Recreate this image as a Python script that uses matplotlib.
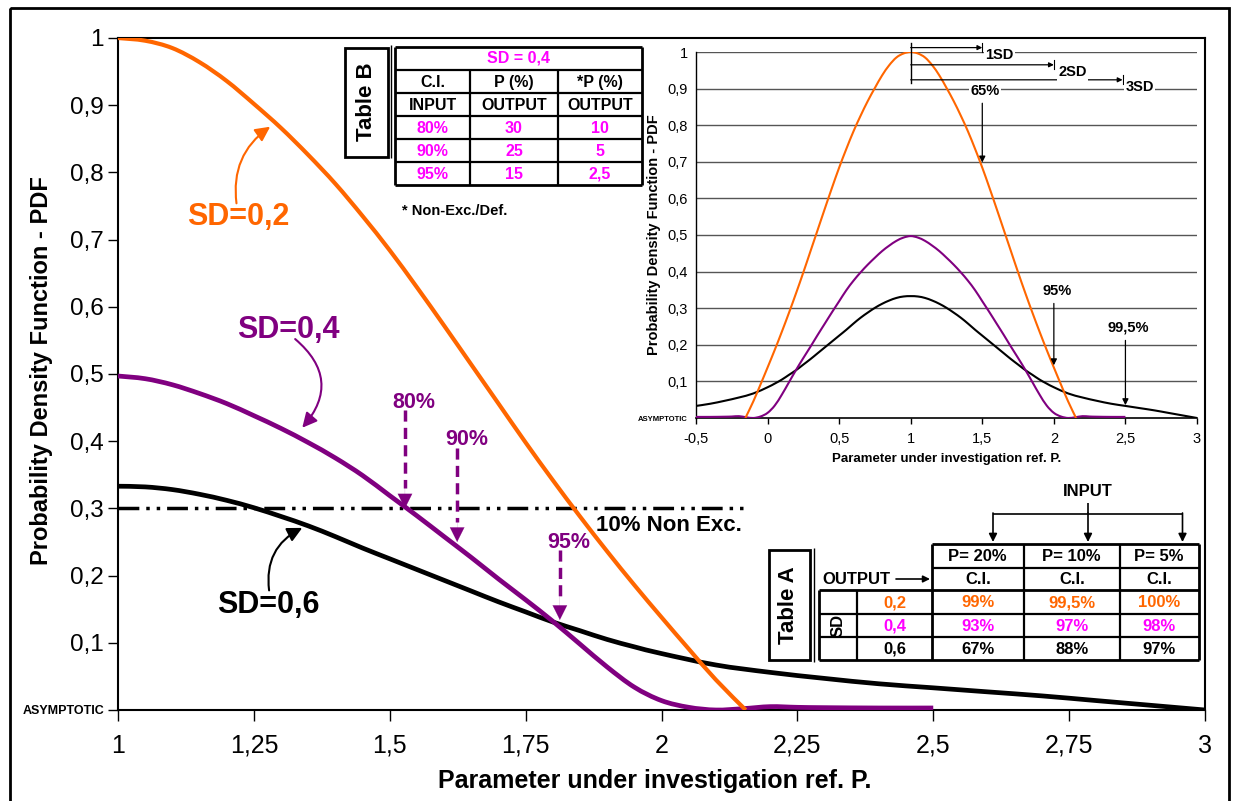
import matplotlib

matplotlib.use("Agg")
import matplotlib.pyplot as plt
from matplotlib import font_manager
from matplotlib.lines import Line2D
from matplotlib.patches import FancyArrowPatch, PathPatch, Rectangle
from matplotlib.path import Path
from matplotlib.transforms import Affine2D

# ------------------------------------------------------------------ data

# right half of each PDF (x >= 1)
SD02_X = [1.00, 1.05, 1.10, 1.15, 1.20, 1.25, 1.30, 1.35, 1.40, 1.45, 1.50, 1.55,
          1.60, 1.65, 1.70, 1.75, 1.80, 1.85, 1.90, 1.95, 2.00, 2.05, 2.10, 2.155]
SD02_Y = [1.000, 0.996, 0.985, 0.964, 0.936, 0.902, 0.866, 0.826, 0.783, 0.735, 0.684, 0.629,
          0.572, 0.514, 0.456, 0.398, 0.342, 0.288, 0.236, 0.186, 0.138, 0.091, 0.045, 0.000]

SD04_X = [1.00, 1.05, 1.10, 1.15, 1.20, 1.25, 1.30, 1.35, 1.40, 1.45, 1.50, 1.55, 1.60, 1.65,
          1.70, 1.75, 1.80, 1.85, 1.90, 1.95, 2.00, 2.05, 2.10, 2.15, 2.20, 2.25, 2.30, 2.40, 2.50]
SD04_Y = [0.497, 0.493, 0.484, 0.471, 0.456, 0.438, 0.419, 0.398, 0.375, 0.349, 0.319, 0.289, 0.258, 0.227,
          0.195, 0.164, 0.132, 0.098, 0.064, 0.034, 0.014, 0.004, 0.000, 0.002, 0.005, 0.004, 0.0035, 0.003, 0.003]

SD06_X = [1.00, 1.05, 1.10, 1.15, 1.20, 1.25, 1.30, 1.35, 1.40, 1.45, 1.50, 1.55, 1.60, 1.65, 1.70,
          1.75, 1.80, 1.85, 1.90, 1.95, 2.00, 2.10, 2.20, 2.30, 2.40, 2.50, 2.60, 2.70, 2.80, 2.90, 3.00]
SD06_Y = [0.333, 0.332, 0.328, 0.321, 0.312, 0.301, 0.288, 0.274, 0.258, 0.241, 0.225, 0.209, 0.193, 0.177, 0.161,
          0.146, 0.131, 0.118, 0.105, 0.094, 0.084, 0.067, 0.056, 0.047, 0.039, 0.033, 0.027, 0.021, 0.014, 0.007, 0.000]

NON_EXC_LEVEL = 0.3
NON_EXC_END = 2.16

MAIN_XTICKS = [1, 1.25, 1.5, 1.75, 2, 2.25, 2.5, 2.75, 3]
MAIN_XLABELS = ["1", "1,25", "1,5", "1,75", "2", "2,25", "2,5", "2,75", "3"]
YTICKS = [0, 0.1, 0.2, 0.3, 0.4, 0.5, 0.6, 0.7, 0.8, 0.9, 1]
YLABELS = ["ASYMPTOTIC", "0,1", "0,2", "0,3", "0,4", "0,5", "0,6", "0,7", "0,8", "0,9", "1"]
INSET_XTICKS = [-0.5, 0, 0.5, 1, 1.5, 2, 2.5, 3]
INSET_XLABELS = ["-0,5", "0", "0,5", "1", "1,5", "2", "2,5", "3"]

# confidence markers on the SD=0,4 curve: (label, x, tip y, dashed line top)
CI_MARKS = [("80%", 1.528, 0.300, 0.446), ("90%", 1.624, 0.250, 0.390), ("95%", 1.813, 0.134, 0.238)]

# inset marks: (label, x, tip y, arrow top)
INSET_MARKS = [("65%", 1.5, 0.698, 0.86), ("95%", 2.0, 0.144, 0.313), ("99,5%", 2.5, 0.035, 0.212)]
SD_SPANS = [("1SD", 1.5), ("2SD", 2.0), ("3SD", 2.48)]

TABLE_B_TITLE = "SD = 0,4"
TABLE_B_HEAD = [["C.I.", "P (%)", "*P (%)"], ["INPUT", "OUTPUT", "OUTPUT"]]
TABLE_B_ROWS = [["80%", "30", "10"], ["90%", "25", "5"], ["95%", "15", "2,5"]]

TABLE_A_HEAD = [["P= 20%", "P= 10%", "P= 5%"], ["C.I.", "C.I.", "C.I."]]
TABLE_A_SD = ["0,2", "0,4", "0,6"]
TABLE_A_ROWS = [["99%", "99,5%", "100%"], ["93%", "97%", "98%"], ["67%", "88%", "97%"]]

ORANGE = "#FF6600"
PURPLE = "#800080"
MAGENTA = "#FF00FF"
ROW_COLORS = [ORANGE, MAGENTA, "black"]


# ------------------------------------------------------------------ fonts

def has_font(name):
    try:
        font_manager.findfont(font_manager.FontProperties(family=name), fallback_to_default=False)
        return True
    except ValueError:
        return False


SANS = "Liberation Sans"
NARROW = "Liberation Sans Narrow" if has_font("Liberation Sans Narrow") else SANS
plt.rcParams["font.family"] = [SANS, "DejaVu Sans"]

# ------------------------------------------------------------------ helpers

W, H = 1235, 801
fig = plt.figure(figsize=(W / 100, H / 100), dpi=100)
PX = Affine2D().scale(1 / W, -1 / H).translate(0, 1) + fig.transFigure


def rect(l, t, r, b):
    return [l / W, 1 - b / H, (r - l) / W, (b - t) / H]


def line(xs, ys, lw=1.5, color="black"):
    fig.add_artist(Line2D(xs, ys, transform=PX, color=color, lw=lw, solid_capstyle="butt"))


def ftext(x, y, s, size=11.5, color="black", **kw):
    fig.text(x, y, s, transform=PX, fontsize=size, color=color, fontweight="bold",
             ha=kw.pop("ha", "center"), va=kw.pop("va", "center"), **kw)


def farrow(a, b, scale=12, lw=1.2):
    fig.add_artist(FancyArrowPatch(a, b, transform=PX, arrowstyle="-|>", mutation_scale=scale,
                                   lw=lw, color="black", shrinkA=0, shrinkB=0))


def smooth_line(axis, xs, ys, color, lw, z):
    # Excel-style smoothed line: Catmull-Rom segments through the read points
    pts = list(zip(xs, ys))
    n = len(pts)
    verts, codes = [pts[0]], [Path.MOVETO]
    for i in range(n - 1):
        p0, p1, p2, p3 = pts[max(i - 1, 0)], pts[i], pts[i + 1], pts[min(i + 2, n - 1)]
        c1 = (p1[0] + (p2[0] - p0[0]) / 6, p1[1] + (p2[1] - p0[1]) / 6)
        c2 = (p2[0] - (p3[0] - p1[0]) / 6, p2[1] - (p3[1] - p1[1]) / 6)
        verts += [c1, c2, p2]
        codes += [Path.CURVE4] * 3
    axis.add_patch(PathPatch(Path(verts, codes), fill=False, ec=color, lw=lw,
                             capstyle="butt", joinstyle="round", zorder=z))


# outer frame
fig.add_artist(Rectangle((10, 8), 1219, 820, transform=PX, fill=False, lw=2, ec="black"))

# ------------------------------------------------------------------ main chart

ax = fig.add_axes(rect(118, 38, 1205, 710))
ax.set_xlim(1, 3)
ax.set_ylim(0, 1)
for sp in ax.spines.values():
    sp.set_linewidth(1.5)

smooth_line(ax, SD06_X, SD06_Y, "black", 3.4, 3)
smooth_line(ax, SD04_X, SD04_Y, PURPLE, 3.4, 4)
smooth_line(ax, SD02_X, SD02_Y, ORANGE, 3.0, 5)
ax.plot([1, NON_EXC_END], [NON_EXC_LEVEL, NON_EXC_LEVEL], color="black", lw=2.5,
        dashes=(6, 2, 1, 2, 1, 2), zorder=2)
ax.text(1.879, 0.275, "10% Non Exc.", fontsize=16, fontweight="bold", ha="left", va="center")

ax.set_xticks(MAIN_XTICKS)
ax.set_xticklabels(MAIN_XLABELS, family=NARROW, fontsize=18)
ax.set_yticks(YTICKS)
ax.set_yticklabels(YLABELS, fontsize=17.5)
ax.get_yticklabels()[0].set_fontsize(9)
ax.get_yticklabels()[0].set_fontweight("bold")
ax.tick_params(axis="x", direction="out", length=8, width=1, pad=9)
ax.tick_params(axis="y", direction="out", length=7, width=1, pad=3)

ax.set_xlabel("Parameter under investigation ref. P.", fontsize=18, fontweight="bold")
ax.xaxis.set_label_coords(0.494, -0.088)
ax.set_ylabel("Probability Density Function - PDF", fontsize=17, fontweight="bold")
ax.yaxis.set_label_coords(-0.06, 0.505)

# curve labels with curved arrows
CURVE_LABELS = [("SD=0,2", ORANGE, (1.221, 0.734), (1.218, 0.754), (1.280, 0.868), -0.3),
                ("SD=0,4", PURPLE, (1.313, 0.566), (1.326, 0.552), (1.339, 0.420), -0.5),
                ("SD=0,6", "black", (1.276, 0.156), (1.278, 0.178), (1.339, 0.271), -0.35)]
for label, col, tpos, start, tip, rad in CURVE_LABELS:
    ax.text(*tpos, label, color=col, fontsize=22, fontweight="bold", ha="center", va="center")
    ax.add_patch(FancyArrowPatch(start, tip, arrowstyle="-|>", mutation_scale=22, lw=1.5,
                                 color=col, connectionstyle=f"arc3,rad={rad}",
                                 shrinkA=0, shrinkB=0, zorder=6))

for label, x, tip, top in CI_MARKS:
    ax.text(x + 0.017, top + 0.012, label, color=PURPLE, fontsize=15.5, fontweight="bold",
            ha="center", va="center")
    ax.plot([x, x], [top, tip + 0.03], color=PURPLE, lw=2.5, dashes=(3.2, 1.8), zorder=6)
    ax.annotate("", xy=(x, tip), xytext=(x, tip + 0.035),
                arrowprops=dict(arrowstyle="-|>", mutation_scale=26, lw=0.1, color=PURPLE,
                                shrinkA=0, shrinkB=0), zorder=7)

# ------------------------------------------------------------------ inset

ins = fig.add_axes(rect(696, 52, 1197, 418))
ins.set_xlim(-0.5, 3)
ins.set_ylim(0, 1)
ins.set_facecolor("white")
for k in ("top", "right"):
    ins.spines[k].set_visible(False)
ins.spines["left"].set_linewidth(1)
ins.spines["bottom"].set_linewidth(1.2)
for y in YTICKS[1:]:
    ins.axhline(y, color="#555555", lw=1, zorder=1)

# mirror the right halves around the mean (x = 1)
blk_x = [2 - x for x in SD06_X[::-1] if x <= 2.5] + SD06_X[1:]
blk_y = [y for x, y in zip(SD06_X[::-1], SD06_Y[::-1]) if x <= 2.5] + SD06_Y[1:]
pur_x = [2 - x for x in SD04_X[::-1]] + SD04_X[1:]
pur_y = SD04_Y[::-1] + SD04_Y[1:]
org_x = [2 - x for x in SD02_X[::-1]] + SD02_X[1:]
org_y = SD02_Y[::-1] + SD02_Y[1:]
smooth_line(ins, blk_x, blk_y, "black", 1.5, 3)
smooth_line(ins, pur_x, pur_y, PURPLE, 1.5, 4)
smooth_line(ins, org_x, org_y, ORANGE, 1.5, 5)

ins.set_xticks(INSET_XTICKS)
ins.set_xticklabels(INSET_XLABELS, fontsize=10.5)
ins.set_yticks(YTICKS)
ins.set_yticklabels(YLABELS, fontsize=10.5)
ins.get_yticklabels()[0].set_fontsize(5.5)
ins.get_yticklabels()[0].set_fontweight("bold")
ins.tick_params(axis="x", direction="out", length=4, width=1, pad=6)
ins.tick_params(axis="y", length=0, pad=6)
ins.set_xlabel("Parameter under investigation ref. P.", fontsize=9.5, fontweight="bold")
ins.xaxis.set_label_coords(0.5, -0.095)
ins.set_ylabel("Probability Density Function - PDF", fontsize=10.5, fontweight="bold")
ins.yaxis.set_label_coords(-0.07, 0.5)

# SD spans above the peak
ins.plot([1, 1], [1.025, 0.915], color="black", lw=1, clip_on=False, zorder=6)
for (label, xend), y, tx in zip(SD_SPANS, [1.012, 0.965, 0.924], [1.52, 2.03, 2.50]):
    ins.annotate("", xy=(xend, y), xytext=(1, y),
                 arrowprops=dict(arrowstyle="-|>", mutation_scale=7, lw=0.9, color="black",
                                 shrinkA=0, shrinkB=0), annotation_clip=False, zorder=6)
    ins.plot([xend, xend], [y - 0.012, y + 0.012], color="black", lw=0.8, clip_on=False)
    ins.text(tx, y - 0.02, label, fontsize=10.5, fontweight="bold", ha="left", va="center",
             bbox=dict(fc="white", ec="none", pad=1), zorder=7)

for label, x, tip, top in INSET_MARKS:
    ins.text(x + 0.02, top + 0.015, label, fontsize=10.5, fontweight="bold", ha="center",
             va="bottom", bbox=dict(fc="white", ec="none", pad=1), zorder=7)
    ins.annotate("", xy=(x, tip), xytext=(x, top),
                 arrowprops=dict(arrowstyle="-|>", mutation_scale=9, lw=0.9, color="black",
                                 shrinkA=0, shrinkB=0), zorder=7)

# ------------------------------------------------------------------ Table B

bx = [395, 470, 558, 642]
by = [47, 69.5, 93, 116, 139, 161.5, 185]
for y in by:
    line([bx[0], bx[-1]], [y, y], lw=2 if y in (by[0], by[-1]) else 1.6)
for x in bx:
    line([x, x], [by[0] if x in (bx[0], bx[-1]) else by[1], by[-1]], lw=2 if x in (bx[0], bx[-1]) else 1.6)
ftext((bx[0] + bx[-1]) / 2, (by[0] + by[1]) / 2, TABLE_B_TITLE, color=MAGENTA)
for r, row in enumerate(TABLE_B_HEAD + TABLE_B_ROWS):
    col = "black" if r < 2 else MAGENTA
    for c, s in enumerate(row):
        ftext((bx[c] + bx[c + 1]) / 2, (by[r + 1] + by[r + 2]) / 2 + 1, s, color=col)
fig.add_artist(Rectangle((345, 48), 43, 109, transform=PX, fill=False, lw=2, ec="black"))
line([390.5, 390.5], [45, 158], lw=1)
ftext(367, 102, "Table B", size=16, rotation=90)
ftext(402, 211, "* Non-Exc./Def.", size=10.5, ha="left")

# ------------------------------------------------------------------ Table A

ax_ = [818.5, 857, 932, 1023.5, 1120, 1198.5]
ay = [543.5, 567.5, 590, 613.5, 637, 660]
for i, y in enumerate(ay):
    x0 = ax_[2] if i < 2 else ax_[0]
    line([x0, ax_[-1]], [y, y], lw=2 if i in (0, 2, 5) else 1.6)
for i, x in enumerate(ax_):
    y0 = ay[0] if i >= 2 else ay[2]
    line([x, x], [y0, ay[-1]], lw=2 if i in (0, 2, 5) else 1.6)
for r, row in enumerate(TABLE_A_HEAD):
    for c, s in enumerate(row):
        ftext((ax_[c + 2] + ax_[c + 3]) / 2, (ay[r] + ay[r + 1]) / 2 + 1, s, size=12)
for r, (sd, row) in enumerate(zip(TABLE_A_SD, TABLE_A_ROWS)):
    yc = (ay[r + 2] + ay[r + 3]) / 2 + 1
    ftext((ax_[1] + ax_[2]) / 2, yc, sd, size=12, color=ROW_COLORS[r])
    for c, s in enumerate(row):
        ftext((ax_[c + 2] + ax_[c + 3]) / 2, yc, s, size=12, color=ROW_COLORS[r])
ftext((ax_[0] + ax_[1]) / 2, (ay[2] + ay[-1]) / 2, "SD", size=12, rotation=90)
ftext(822, 579, "OUTPUT", size=12, ha="left")
farrow((896, 579), (930, 579), scale=10)
fig.add_artist(Rectangle((768.5, 550), 41.5, 110, transform=PX, fill=False, lw=2, ec="black"))
line([813.5, 813.5], [548, 662], lw=1)
ftext(789, 605, "Table A", size=16, rotation=90)

ftext(1088, 492, "INPUT", size=12)
line([1088, 1088], [503, 513], lw=1.2)
line([993, 1182.5], [513.5, 513.5], lw=1.2)
for x in (993, 1088, 1182.5):
    farrow((x, 513), (x, 542), scale=12)

fig.savefig("out.png", dpi=100)
